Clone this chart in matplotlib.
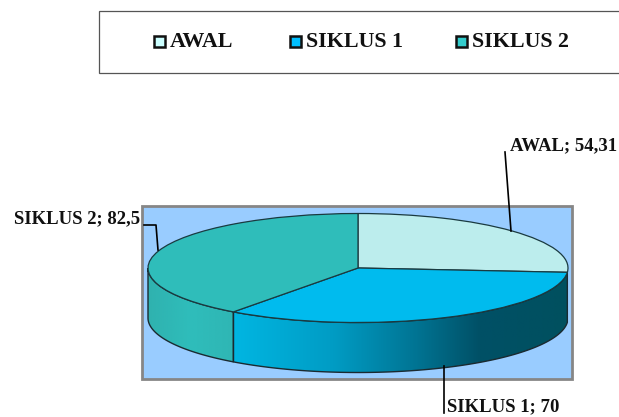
import numpy as np
import matplotlib
matplotlib.use("Agg")
import matplotlib.pyplot as plt
from matplotlib.colors import LinearSegmentedColormap
from matplotlib.patches import Polygon, Rectangle

categories = ["AWAL", "SIKLUS 1", "SIKLUS 2"]
values = [54.31, 70, 82.5]
value_labels = ["54,31", "70", "82,5"]
colors = ["#BCEDED", "#00BBEE", "#2FBDBA"]
legend_colors = ["#CCFFFF", "#00BFFF", "#33CCCC"]

W, H = 619, 417
plt.rcParams["font.family"] = ["Liberation Serif", "DejaVu Serif"]
plt.rcParams["font.weight"] = "bold"

fig = plt.figure(figsize=(W / 100, H / 100), dpi=100)

# background layer in pixel coords
bg = fig.add_axes([0, 0, 1, 1])
bg.set_xlim(0, W)
bg.set_ylim(H, 0)
bg.axis("off")

# legend box runs off the right side
bg.add_patch(Rectangle((98.5, 11), 540, 62, fc="white", ec="#555555", lw=0.9))
legend_x = [153, 289, 455]
for x, name, c in zip(legend_x, categories, legend_colors):
    bg.add_patch(Rectangle((x + 1, 36), 11, 11, fc=c, ec="#111111", lw=1.8))
    bg.text(x + 17, 42, name, fontsize=15.8, va="center", color="#111111")

# plot area
bg.add_patch(Rectangle((142, 206), 430, 172.5, fc="#99CCFF", ec="#868686", lw=2.0))

# pie axes: unit pie squeezed into an ellipse
cx, cy, rx, ry, depth = 358, 268, 210, 54.5, 50
ax = fig.add_axes([0, 0, 1, 1], zorder=2)
ax.patch.set_alpha(0)

fracs = np.array(values) / sum(values)
ends = 90 - 360 * np.cumsum(fracs)
d = depth / ry


def wall(a0, a1, cmap):
    # side of the disc between two angles, shaded left to right
    t = np.radians(np.linspace(a0, a1, 200))
    xs, ys = np.cos(t), np.sin(t)
    verts = np.r_[np.c_[xs, ys], np.c_[xs, ys - d][::-1]]
    poly = Polygon(verts, closed=True, fc="none", ec="#1A2A30", lw=1.0, zorder=2)
    ax.add_patch(poly)
    im = ax.imshow(np.linspace(0, 1, 256)[None, :], cmap=cmap, aspect="auto", zorder=1,
                   extent=(xs.min(), xs.max(), -1 - d, 1))
    im.set_clip_path(poly)


teal = LinearSegmentedColormap.from_list("teal", ["#2FB2AF", "#2FBDBB", "#2FB6B4"])
blue = LinearSegmentedColormap.from_list(
    "blue",
    [(0, "#00B6E2"), (0.3, "#009CC4"), (0.55, "#007493"), (0.74, "#005066"), (1, "#00505F")],
)
wall(ends[1], -180, teal)
wall(ends[0], ends[1], blue)

ax.pie(values, colors=colors, startangle=90, counterclock=False, radius=1,
       wedgeprops=dict(edgecolor="#1A3A40", linewidth=0.9, zorder=3), frame=True)
ax.set_aspect("auto")
ax.set_xlim(-cx / rx, (W - cx) / rx)
ax.set_ylim((cy - H) / ry, cy / ry)
ax.axis("off")

# data labels with leader lines
label_pos = [(510, 146), (447, 407), (14, 219)]
leaders = [
    ([505, 511], [152, 231]),
    ([444, 444], [366, 413]),
    ([144, 156, 158], [225, 225, 250]),
]
top = fig.add_axes([0, 0, 1, 1], zorder=3)
top.patch.set_alpha(0)
top.set_xlim(0, W)
top.set_ylim(H, 0)
top.axis("off")
for name, val, (x, y), (lx, ly) in zip(categories, value_labels, label_pos, leaders):
    top.text(x, y, f"{name}; {val}", fontsize=13.5, va="center", color="#111111")
    top.plot(lx, ly, color="black", lw=1.2)

fig.savefig("out.png", dpi=100)
